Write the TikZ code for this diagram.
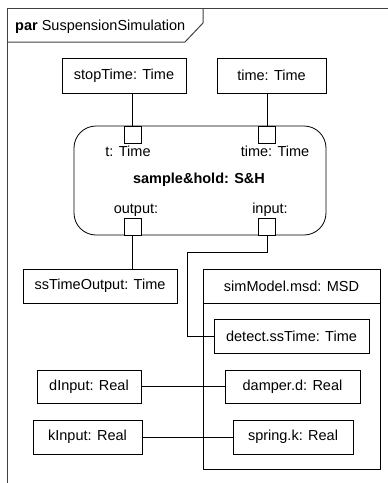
\documentclass[tikz,border=0pt]{standalone}
\usepackage{fontspec}
\setmainfont{Liberation Sans}
\begin{document}
\begin{tikzpicture}[x=1pt,y=-1pt,
  every node/.style={font=\fontsize{14.5}{16}\selectfont, inner sep=0pt},
  part/.style={draw, line width=0.8pt, minimum width=#1},
  port/.style={draw, line width=0.8pt, fill=white, minimum width=17pt, minimum height=17pt},
  wire/.style={line width=0.8pt},
  framestyle/.style={line width=1pt, draw=black!75}]
\useasboundingbox (0,0) rectangle (388,483);

% diagram frame and name tab
\draw[framestyle] (7,483) -- (7,8) -- (388,8);
\draw[framestyle] (7,42) -- (185,42) -- (203,23) -- (203,8);
\node[anchor=base west] (title) at (15,30) {\textbf{par} SuspensionSimulation};

% value properties above the block
\node[part=124pt, minimum height=35pt] (stop) at (124,75.5) {stopTime: Time};
\node[part=109pt, minimum height=35pt] (time) at (271.5,75.5) {time: Time};

% sample and hold block with its ports
\node[part=252pt, minimum height=109pt, rounded corners=22pt] (sh) at (200,180.5) {};
\node[font=\fontsize{14.5}{16}\selectfont\bfseries] (shname) at (199,180) {sample\&hold: S\&H};
\node[port] (tport) at (132.5,134.5) {};
\node[port] (timeport) at (267,134.5) {};
\node[port] (outport) at (132.5,226.5) {};
\node[port] (inport) at (267,226.5) {};
\node (tlabel) at (128,151) {t: Time};
\node (timelabel) at (275,151) {time: Time};
\node (outlabel) at (136,210) {output:};
\node (inlabel) at (270,210) {input:};

% output value
\node[part=154pt, minimum height=34pt] (sst) at (100,286) {ssTimeOutput: Time};

% simulation model with nested properties
\node[part=177pt, minimum height=200pt] (msd) at (291.5,369) {};
\node[part=177pt, minimum height=34pt] (msdhead) at (291.5,286) {simModel.msd: MSD};
\node[part=155pt, minimum height=34pt] (detect) at (291.5,336) {detect.ssTime: Time};
\node[part=135pt, minimum height=33pt] (damper) at (292.5,386.5) {damper.d: Real};
\node[part=120pt, minimum height=34pt] (spring) at (293,437) {spring.k: Real};

% inputs
\node[part=104pt, minimum height=33pt] (dinput) at (89,386.5) {dInput: Real};
\node[part=109pt, minimum height=34pt] (kinput) at (87.5,437) {kInput: Real};

% binding connectors
\draw[wire] (tport.north) -- (tport.north |- stop.south);
\draw[wire] (timeport.north) -- (timeport.north |- time.south);
\draw[wire] (outport.south) -- (outport.south |- sst.north);
\coordinate (bend) at (187,252);
\draw[wire] (inport.south) |- (bend) |- (detect.west);
\draw[wire] (dinput.east) -- (damper.west);
\draw[wire] (kinput.east) -- (spring.west);
\end{tikzpicture}
\end{document}
